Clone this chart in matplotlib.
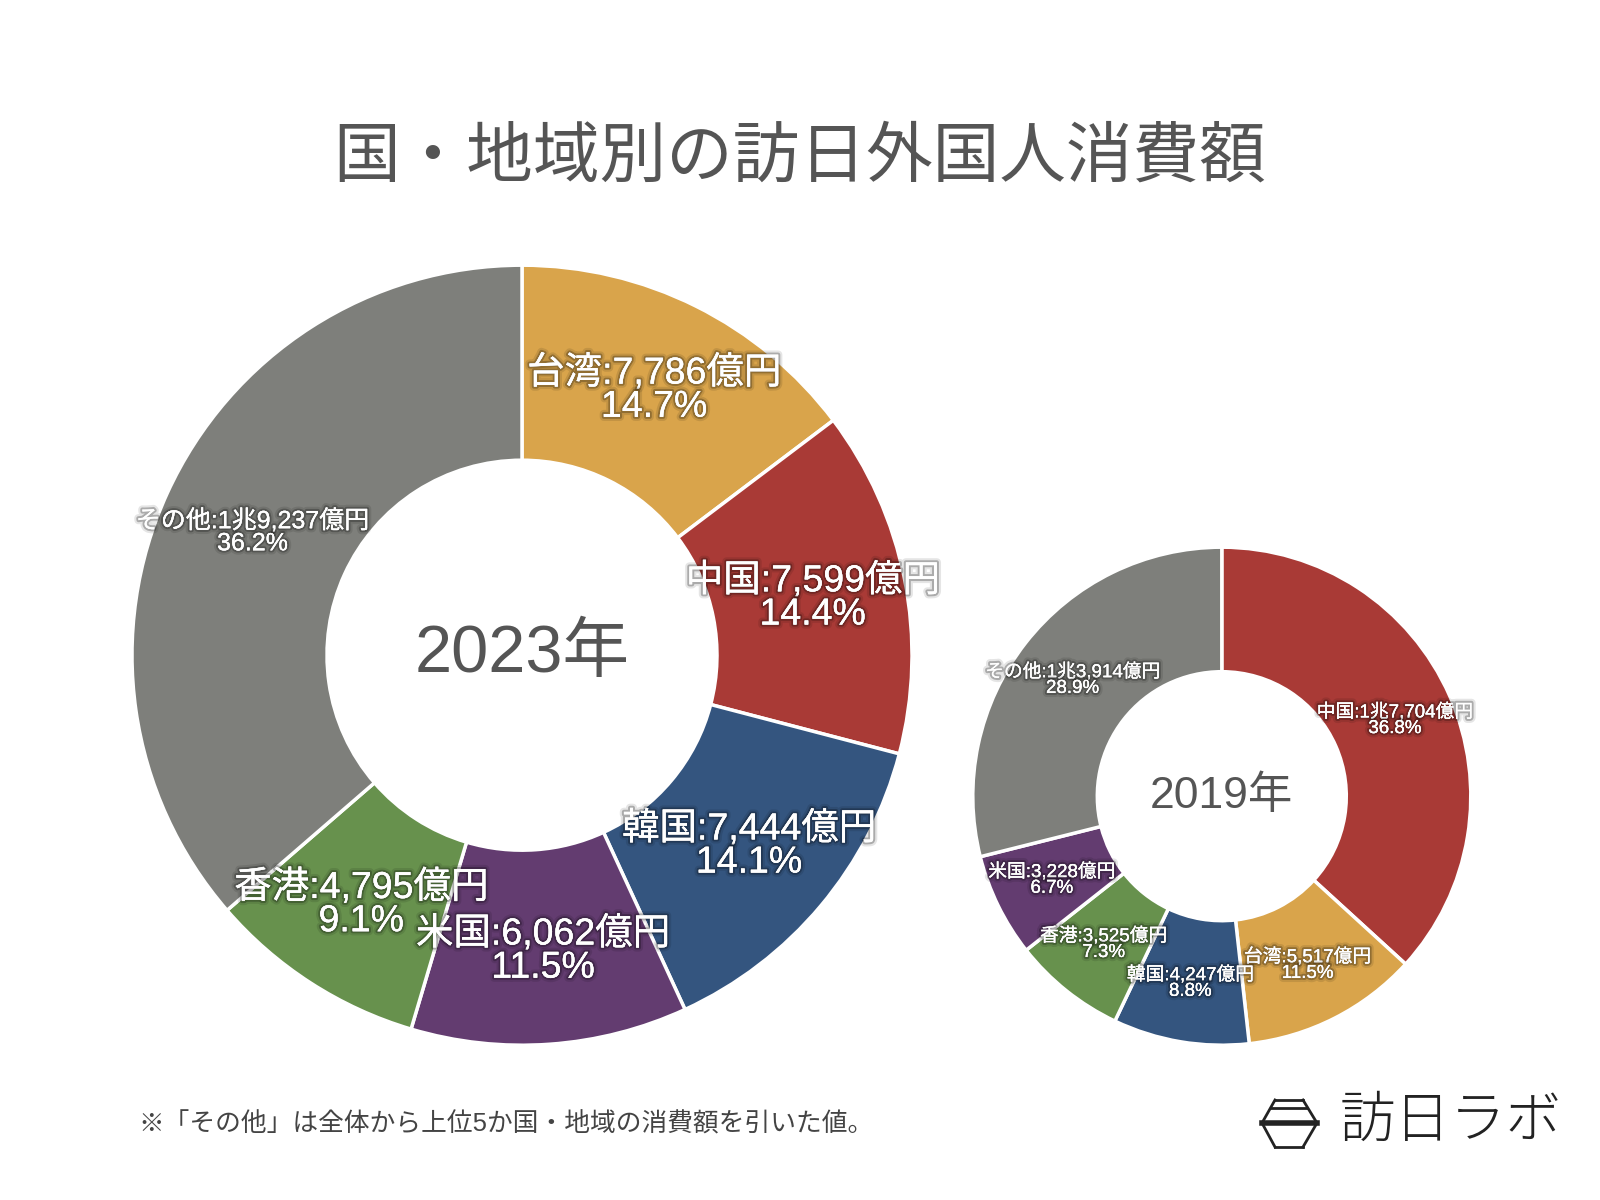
import matplotlib
matplotlib.use("Agg")
import matplotlib.pyplot as plt
import matplotlib.patheffects as pe
from matplotlib.lines import Line2D

# Latin digits from Liberation Sans, kana/kanji from Noto CJK
plt.rcParams['font.family'] = ['Liberation Sans', 'Noto Sans CJK JP', 'DejaVu Sans']

# 2023 data (clockwise from 12 o'clock), 億円
regions_2023 = ["台湾", "中国", "韓国", "米国", "香港", "その他"]
spend_2023 = [7786, 7599, 7444, 6062, 4795, 19237]
pct_2023 = ["14.7%", "14.4%", "14.1%", "11.5%", "9.1%", "36.2%"]

# 2019 data
regions_2019 = ["中国", "台湾", "韓国", "香港", "米国", "その他"]
spend_2019 = [17704, 5517, 4247, 3525, 3228, 13914]
pct_2019 = ["36.8%", "11.5%", "8.8%", "7.3%", "6.7%", "28.9%"]

colors = {
    "台湾": "#D9A44B",
    "中国": "#A93A36",
    "韓国": "#34557F",
    "米国": "#633C70",
    "香港": "#67914D",
    "その他": "#7E7F7B",
}

title = "国・地域別の訪日外国人消費額"
note = "※「その他」は全体から上位5か国・地域の消費額を引いた値。"

# soft dark glow behind the white labels
shadow = [pe.withStroke(linewidth=6, foreground=(0, 0, 0, 0.1)),
          pe.withStroke(linewidth=3, foreground=(0, 0, 0, 0.25)),
          pe.Normal()]


def fmt_oku(v):
    if v >= 10000:
        return f"{v // 10000}兆{v % 10000:,}億円"
    return f"{v:,}億円"


def donut(ax, names, values, pcts, year, year_size, label_sizes):
    labels = [f"{n}:{fmt_oku(v)}\n{p}" for n, v, p in zip(names, values, pcts)]
    wedges, texts = ax.pie(values, labels=labels, colors=[colors[n] for n in names],
                           startangle=90, counterclock=False, radius=1,
                           labeldistance=0.76,
                           wedgeprops=dict(width=0.5, edgecolor="white", linewidth=2.5))
    for t, fs in zip(texts, label_sizes):
        t.set_ha("center")
        t.set_va("center")
        t.set_multialignment("center")
        t.set_color("white")
        t.set_fontsize(fs)
        t.set_linespacing(0.9)
        t.set_path_effects(shadow)
    ax.text(0, 0, year, ha="center", va="center", fontsize=year_size, color="#555555")
    ax.set_xlim(-1, 1)
    ax.set_ylim(-1, 1)
    ax.set_aspect("equal")
    ax.axis("off")


fig = plt.figure(figsize=(16, 12), dpi=100)
fig.patch.set_facecolor("white")

fig.text(0.5, 1 - 160 / 1200, title, ha="center", va="center", fontsize=48, color="#555555")

ax1 = fig.add_axes([0.0825, 0.129, 0.4875, 0.65])
donut(ax1, regions_2023, spend_2023, pct_2023, "2023年", 48, [27, 27, 27, 27, 27, 18])

ax2 = fig.add_axes([0.608, 0.129, 0.31125, 0.415])
donut(ax2, regions_2019, spend_2019, pct_2019, "2019年", 32, [13.5] * 6)

fig.text(138 / 1600, 1 - 1124 / 1200, note, ha="left", va="center", fontsize=18.5, color="#444444")


# logo: icon + name
def fx(x):
    return x / 1600


def fy(y):
    return 1 - y / 1200


y0, y1, ym = 1100, 1147, 1123
icon = [
    ([1275, 1303], [y0, y0], 2),
    ([1275, 1262], [y0, ym], 2),
    ([1303, 1317], [y0, ym], 2),
    ([1262, 1275], [ym, y1], 2),
    ([1317, 1303], [ym, y1], 2),
    ([1275, 1303], [y1, y1], 2),
    ([1271, 1307], [1108, 1108], 2),
    ([1262, 1317], [ym, ym], 4),
]
for xs, ys, lw in icon:
    fig.add_artist(Line2D([fx(x) for x in xs], [fy(y) for y in ys], color="#222222", lw=lw,
                          transform=fig.transFigure))
fig.text(fx(1340), fy(1123), "訪日ラボ", ha="left", va="center", fontsize=40,
         color="#222222", fontweight="light")

fig.savefig("out.png", dpi=100)
